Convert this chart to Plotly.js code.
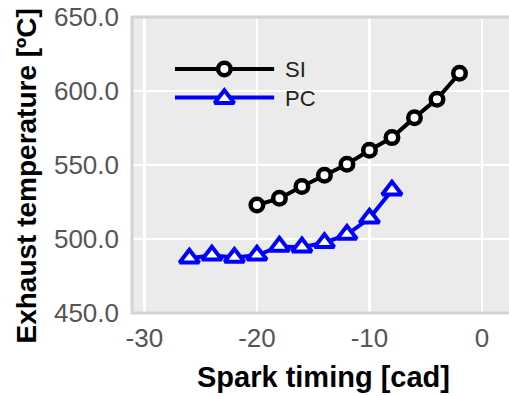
<!DOCTYPE html>
<html>
<head>
<meta charset="utf-8">
<script src="https://cdn.plot.ly/plotly-3.0.1.min.js"></script>
<style>html,body{margin:0;padding:0;overflow:hidden;background:#fff;}</style>
</head>
<body>
<div id="chart" style="width:509px;height:396px;"></div>
<script>
// Data
const siTiming = [-20, -18, -16, -14, -12, -10, -8, -6, -4, -2];
const siTemp = [523, 527.5, 535.5, 543, 550.5, 560, 568.5, 582, 594.5, 612];
const pcTiming = [-26, -24, -22, -20, -18, -16, -14, -12, -10, -8];
const pcTemp = [487, 489, 487.5, 489, 495, 494.5, 497.5, 503, 514, 533];
const xTicks = [-30, -20, -10, 0];
const xTickText = ['-30', '-20', '-10', '0'];
const yTicks = [450, 500, 550, 600, 650];
const yTickText = ['450.0', '500.0', '550.0', '600.0', '650.0'];
const seriesNames = ['SI', 'PC'];

const FONT = 'Liberation Sans, Arial, Helvetica, sans-serif';
const circleMarker = {symbol: 'circle', size: 12.5, color: '#ffffff', line: {color: '#000000', width: 4.5}};
const triMarker = {symbol: 'triangle-up', size: 17, color: '#ffffff', line: {color: '#0000ff', width: 4}};

const traces = [
  {
    x: siTiming, y: siTemp, mode: 'lines+markers', name: seriesNames[0],
    line: {color: '#000000', width: 4}, marker: circleMarker, showlegend: false
  },
  {
    x: pcTiming, y: pcTemp, mode: 'lines+markers', name: seriesNames[1],
    line: {color: '#0000ff', width: 4}, marker: triMarker, showlegend: false
  },
  // custom legend samples on hidden overlay axes (0..1 of plot area)
  {x: [0.114, 0.377], y: [0.824, 0.824], xaxis: 'x2', yaxis: 'y2', mode: 'lines',
   line: {color: '#000000', width: 4}, showlegend: false, hoverinfo: 'skip'},
  {x: [0.245], y: [0.824], xaxis: 'x2', yaxis: 'y2', mode: 'markers',
   marker: circleMarker, showlegend: false, hoverinfo: 'skip'},
  {x: [0.114, 0.377], y: [0.728, 0.728], xaxis: 'x2', yaxis: 'y2', mode: 'lines',
   line: {color: '#0000ff', width: 4}, showlegend: false, hoverinfo: 'skip'},
  {x: [0.245], y: [0.724], xaxis: 'x2', yaxis: 'y2', mode: 'markers',
   marker: triMarker, showlegend: false, hoverinfo: 'skip'}
];

const layout = {
  width: 509, height: 396,
  margin: {l: 132, r: 0, t: 17, b: 83},
  paper_bgcolor: '#ffffff',
  plot_bgcolor: '#ebebeb',
  font: {family: FONT, size: 26, color: '#555555'},
  xaxis: {
    range: [-31.1, 2.4], tickvals: xTicks, ticktext: xTickText, ticks: '', showline: false,
    ticklabelstandoff: 7,
    showgrid: true, gridcolor: '#ffffff', gridwidth: 2.5, zeroline: false,
    tickfont: {family: FONT, size: 26, color: '#555555'}
  },
  yaxis: {
    range: [450, 650], tickvals: yTicks, ticktext: yTickText, ticks: '', showline: false,
    ticklabelstandoff: 12,
    showgrid: true, gridcolor: '#ffffff', gridwidth: 2.5, zeroline: false,
    tickfont: {family: FONT, size: 26, color: '#555555'}
  },
  xaxis2: {overlaying: 'x', range: [0, 1], visible: false, fixedrange: true},
  yaxis2: {overlaying: 'y', range: [0, 1], visible: false, fixedrange: true},
  shapes: [
    {type: 'rect', xref: 'paper', yref: 'paper', x0: 0, x1: 1.1, y0: 0, y1: 1,
     line: {color: '#d3d3d3', width: 3}, layer: 'above'}
  ],
  annotations: [
    {text: '<b>Exhaust temperature [ºC]</b>', xref: 'paper', yref: 'paper', x: 0, y: 0.461,
     xanchor: 'center', yanchor: 'middle', xshift: -105, textangle: -90, showarrow: false,
     font: {family: FONT, size: 28, color: '#000000'}},
    {text: '<b>Spark timing [cad]</b>', xref: 'paper', yref: 'paper', x: 0.508, y: 0,
     xanchor: 'center', yanchor: 'middle', yshift: -64, showarrow: false,
     font: {family: FONT, size: 29, color: '#000000'}},
    {text: seriesNames[0], xref: 'paper', yref: 'paper', x: 0.40, y: 0.822,
     xanchor: 'left', yanchor: 'middle', showarrow: false,
     font: {family: FONT, size: 22, color: '#222222'}},
    {text: seriesNames[1], xref: 'paper', yref: 'paper', x: 0.40, y: 0.726,
     xanchor: 'left', yanchor: 'middle', showarrow: false,
     font: {family: FONT, size: 22, color: '#222222'}}
  ]
};

Plotly.newPlot('chart', traces, layout, {staticPlot: true, displayModeBar: false});
</script>
</body>
</html>
